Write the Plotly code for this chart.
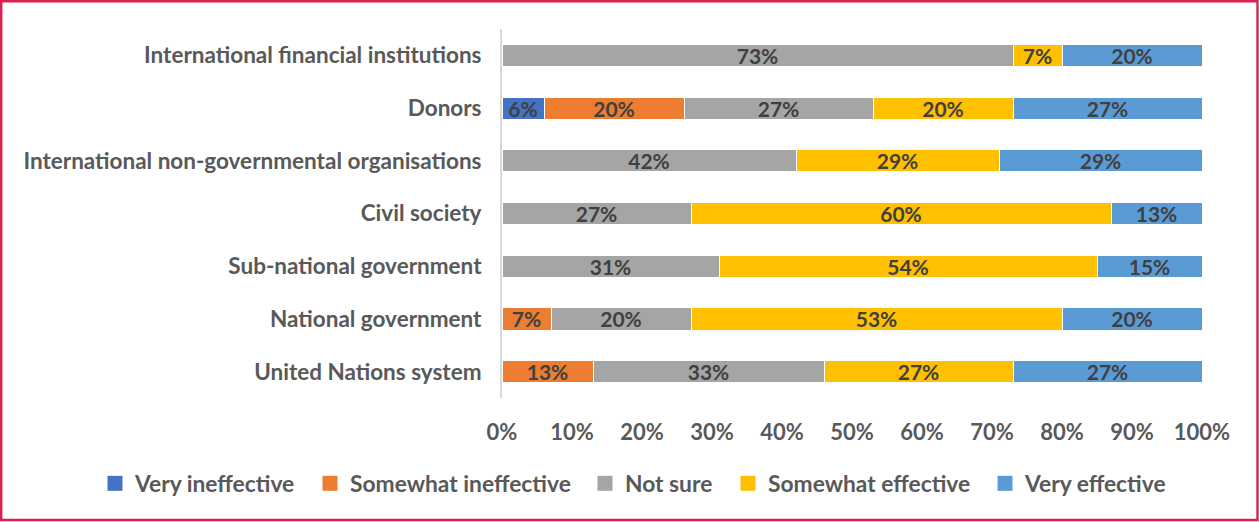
import plotly.graph_objects as go

categories = [
    "United Nations system",
    "National government",
    "Sub-national government",
    "Civil society",
    "International non-governmental organisations",
    "Donors",
    "International financial institutions",
]

very_ineffective = [0, 0, 0, 0, 0, 6, 0]
somewhat_ineffective = [13, 7, 0, 0, 0, 20, 0]
not_sure = [33, 20, 31, 27, 42, 27, 73]
somewhat_effective = [27, 53, 54, 60, 29, 20, 7]
very_effective = [27, 20, 15, 13, 29, 27, 20]

series = [
    ("Very ineffective", very_ineffective, "#4472C4"),
    ("Somewhat ineffective", somewhat_ineffective, "#ED7D31"),
    ("Not sure", not_sure, "#A5A5A5"),
    ("Somewhat effective", somewhat_effective, "#FFC000"),
    ("Very effective", very_effective, "#5B9BD5"),
]

tick_vals = [0, 10, 20, 30, 40, 50, 60, 70, 80, 90, 100]
tick_text = [f"{v}%" for v in tick_vals]

# left edge (px) of each legend key along the bottom row
legend_left_px = [111, 326, 601, 744, 1001]

FONT = "Lato"
W, H = 1259, 522
ML, MR, MT, MB = 502, 57, 29, 124


# pixel positions converted to paper coordinates
def px_x(p):
    return (p - ML) / (W - ML - MR)


def px_y(p):
    return 1 - (p - MT) / (H - MT - MB)


fig = go.Figure()
legend_layouts = {}
for i, (name, vals, color) in enumerate(series):
    lg = "legend" if i == 0 else f"legend{i + 1}"
    fig.add_trace(go.Bar(
        y=categories,
        x=vals,
        name=name,
        orientation="h",
        marker=dict(color=color, line=dict(color="white", width=1)),
        text=[f"{v}%" if v else "" for v in vals],
        textposition="inside",
        insidetextanchor="middle",
        textangle=0,
        textfont=dict(family=FONT, size=21, color="#404040", weight="bold"),
        constraintext="none",
        cliponaxis=False,
        showlegend=False,
        legendgroup=name,
    ))
    # square legend key for the series
    fig.add_trace(go.Scatter(
        x=[None], y=[None],
        mode="markers",
        name=name,
        legendgroup=name,
        legend=lg,
        marker=dict(symbol="square", size=15, color=color),
        hoverinfo="skip",
    ))
    legend_layouts[lg] = dict(
        orientation="h",
        xref="paper", yref="paper",
        x=px_x(legend_left_px[i] - 16), y=px_y(483.5),
        xanchor="left", yanchor="middle",
        bgcolor="rgba(0,0,0,0)",
        font=dict(family=FONT, size=22.8, color="#595959", weight="bold"),
        itemwidth=30,
    )

# outer frame
fig.add_shape(type="rect", xref="paper", yref="paper",
              x0=px_x(1.2), x1=px_x(1257.5), y0=px_y(520), y1=px_y(1.2),
              line=dict(color="#DC1F4E", width=2.4), layer="above")

fig.update_layout(
    width=W, height=H,
    barmode="stack",
    bargap=0.58,
    margin=dict(l=ML, r=MR, t=MT, b=MB, pad=0, autoexpand=False),
    plot_bgcolor="white",
    paper_bgcolor="white",
    uniformtext=dict(minsize=8, mode="show"),
    xaxis=dict(
        range=[0, 100],
        tickvals=tick_vals,
        ticktext=tick_text,
        showgrid=False,
        zeroline=False,
        showline=False,
        ticks="",
        ticklabelstandoff=19,
        tickangle=0,
        automargin=False,
        tickfont=dict(family=FONT, size=22, color="#595959", weight="bold"),
    ),
    yaxis=dict(
        showgrid=False,
        zeroline=False,
        showline=True,
        linecolor="#D9D9D9",
        linewidth=2,
        ticks="",
        ticklabelstandoff=14,
        automargin=False,
        tickfont=dict(family=FONT, size=22.5, color="#595959", weight="bold"),
    ),
    **legend_layouts,
)

fig.write_html("out.html")
